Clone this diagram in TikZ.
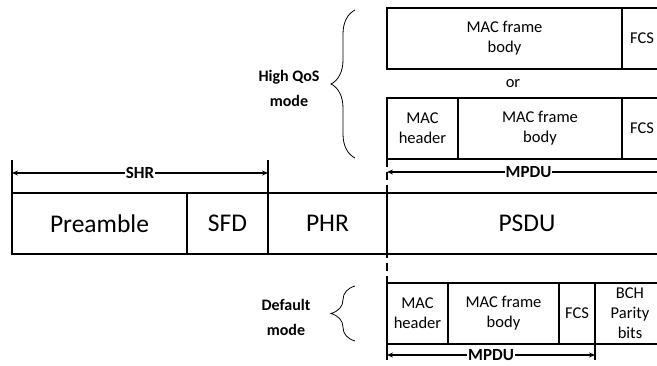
\documentclass[tikz,border=0pt]{standalone}
\usepackage{fontspec}
\setmainfont{Carlito}
\usetikzlibrary{positioning}
\usetikzlibrary{arrows.meta}
\usetikzlibrary{decorations.pathreplacing}

\begin{document}
\begin{tikzpicture}[x=1pt, y=-1pt,
    field/.style={draw, line width=1.1pt, rectangle, inner sep=0pt, outer sep=0pt, align=center},
    phyfield/.style={field, minimum height=61pt, font=\fontsize{25.5}{30}\selectfont},
    macfield/.style={field, minimum height=61pt, font=\fontsize{16.5}{20}\selectfont},
    dim/.style={line width=1.1pt, {Stealth[length=6pt,width=5pt]}-{Stealth[length=6pt,width=5pt]}},
    dimlabel/.style={fill=white, inner sep=1pt, font=\bfseries\fontsize{17}{19}\selectfont},
    modelabel/.style={align=center, font=\bfseries\fontsize{16}{25}\selectfont},
    tick/.style={line width=1.1pt},
    modebrace/.style={line width=0.8pt, decorate, decoration={brace, amplitude=24pt}}]

  % page size
  \useasboundingbox (0,0) rectangle (657,365);
  \clip (0,0) rectangle (657,365);

  % PHY frame
  \node[phyfield, minimum width=175pt, anchor=north west] (pre) at (12,193) {Preamble};
  \node[phyfield, minimum width=81pt, right=0pt of pre] (sfd) {SFD};
  \node[phyfield, minimum width=119pt, right=0pt of sfd] (phr) {PHR};
  \node[phyfield, minimum width=280pt, right=0pt of phr] (psdu) {PSDU};

  % SHR span
  \coordinate (shrL) at (12,173);
  \coordinate (shrR) at (268,173);
  \draw[tick] (pre.north west) -- ++(0,-33);
  \draw[tick] (sfd.north east) -- ++(0,-33);
  \draw[dim] (shrL) -- node[dimlabel] {SHR} (shrR);

  % high QoS mode
  \node[macfield, minimum width=235pt, anchor=north west] (body1) at (387,8) {MAC frame\\body};
  \node[macfield, minimum width=40pt, right=0pt of body1] (fcs1) {FCS};
  \node[font=\fontsize{16.5}{18}\selectfont] (or) at (513,84) {or};
  \node[macfield, minimum width=71pt, anchor=north west] (hdr1) at (387,98) {MAC\\header};
  \node[macfield, minimum width=164pt, right=0pt of hdr1] (body2) {MAC frame\\body};
  \node[macfield, minimum width=40pt, right=0pt of body2] (fcs2) {FCS};

  \coordinate (qosL) at (387,172);
  \coordinate (qosR) at (670,172);
  \draw[dim] (qosL) -- node[dimlabel] {MPDU} (qosR);

  \coordinate (qosbot) at (355,158);
  \coordinate (qostop) at (355,10);
  \draw[modebrace] (qosbot) -- (qostop);
  \node[modelabel] (qoslabel) at (289,88) {High QoS\\mode};

  % default mode
  \node[macfield, minimum width=61pt, anchor=north west] (hdr2) at (387,283) {MAC\\header};
  \node[macfield, minimum width=111pt, right=0pt of hdr2] (body3) {MAC frame\\body};
  \node[macfield, minimum width=36pt, right=0pt of body3] (fcs3) {FCS};
  \node[macfield, minimum width=70pt, right=0pt of fcs3] (bch) {BCH\\Parity\\bits};

  \coordinate (defL) at (387,355);
  \coordinate (defR) at (595,355);
  \draw[tick] (hdr2.south west) -- ++(0,16);
  \draw[tick] (fcs3.south east) -- ++(0,16);
  \draw[dim] (defL) -- node[dimlabel] {MPDU} (defR);

  \coordinate (defbot) at (355,341);
  \coordinate (deftop) at (355,286);
  \draw[modebrace] (defbot) -- (deftop);
  \node[modelabel] (deflabel) at (286,317) {Default\\mode};

  % PSDU boundary
  \draw[tick, dash pattern=on 8pt off 5pt] (hdr1.south west) -- (hdr2.north west);

\end{tikzpicture}
\end{document}
